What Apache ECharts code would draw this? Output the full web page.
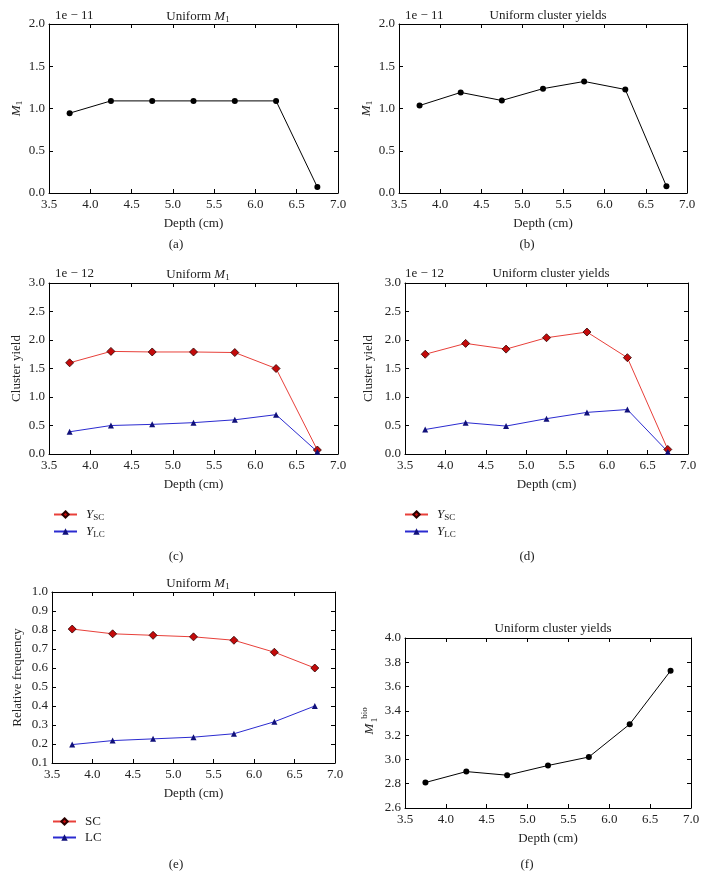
<!DOCTYPE html>
<html>
<head>
<meta charset="utf-8">
<script src="https://cdn.jsdelivr.net/npm/echarts@6/dist/echarts.min.js"></script>
<style>
html,body{margin:0;padding:0;background:#fff;}
#c{width:706px;height:878px;}
</style>
</head>
<body>
<div id="c"></div>
<script>
// ---- data ----
var depth = [3.75, 4.25, 4.75, 5.25, 5.75, 6.25, 6.75];
var xTicks = ['3.5','4.0','4.5','5.0','5.5','6.0','6.5','7.0'];
var aM1 = [0.945, 1.09, 1.09, 1.09, 1.09, 1.09, 0.07];           // x 1e-11
var bM1 = [1.035, 1.19, 1.095, 1.235, 1.32, 1.225, 0.08];        // x 1e-11
var cSC = [1.60, 1.80, 1.79, 1.79, 1.78, 1.50, 0.07];            // x 1e-12
var cLC = [0.39, 0.50, 0.52, 0.55, 0.60, 0.69, 0.04];            // x 1e-12
var dSC = [1.75, 1.94, 1.84, 2.04, 2.14, 1.69, 0.08];            // x 1e-12
var dLC = [0.43, 0.55, 0.49, 0.62, 0.73, 0.78, 0.04];            // x 1e-12
var eSC = [0.805, 0.78, 0.772, 0.764, 0.746, 0.683, 0.60];
var eLC = [0.197, 0.218, 0.227, 0.236, 0.254, 0.317, 0.40];
var fBio = [2.81, 2.90, 2.87, 2.95, 3.02, 3.29, 3.73];

var FONT = 'Liberation Serif';
var FS = 13;
var TXT = '#222';

function pairs(ys){ return depth.map(function(x,i){ return [x, ys[i]]; }); }

var grids = [
  {left:49,  top:24,  width:289, height:169},
  {left:399, top:24,  width:288, height:169},
  {left:49,  top:283, width:289, height:171},
  {left:405, top:283, width:283, height:171},
  {left:52,  top:592, width:283, height:171},
  {left:405, top:638, width:286, height:170}
];
var yCfg = [
  {min:0, max:2.0, interval:0.5, name:'{i|M}{s|1}', gap:25},
  {min:0, max:2.0, interval:0.5, name:'{i|M}{s|1}', gap:25},
  {min:0, max:3.0, interval:0.5, name:'Cluster yield', gap:26},
  {min:0, max:3.0, interval:0.5, name:'Cluster yield', gap:30},
  {min:0.1, max:1.0, interval:0.1, name:'Relative frequency', gap:28},
  {min:2.6, max:4.0, interval:0.2, name:'', gap:30}
];

var rich = {
  i:{fontFamily:FONT, fontSize:FS, fontStyle:'italic', color:TXT},
  s:{fontFamily:FONT, fontSize:9, color:TXT, padding:[6,0,0,0]},
  n:{fontFamily:FONT, fontSize:FS, color:TXT}
};

var xAxis = [], yAxis = [];
grids.forEach(function(g, i){
  var common = {
    type:'value', gridIndex:i, min:3.5, max:7.0, interval:0.5,
    axisLine:{show:true, onZero:false, lineStyle:{color:'#000', width:1}},
    axisTick:{show:true, inside:true, length:4, lineStyle:{color:'#000', width:1}},
    splitLine:{show:false}
  };
  xAxis.push(Object.assign({}, common, {
    position:'bottom',
    axisLabel:{color:TXT, fontFamily:FONT, fontSize:FS, margin:5,
      formatter:function(v){ var k = Math.round((v-3.5)/0.5); return xTicks[k]; }},
    name:'Depth (cm)', nameLocation:'middle', nameGap:24,
    nameTextStyle:{color:TXT, fontFamily:FONT, fontSize:FS}
  }));
  xAxis.push(Object.assign({}, common, {position:'top', axisLabel:{show:false}}));
  var yc = yCfg[i];
  var ycommon = {
    type:'value', gridIndex:i, min:yc.min, max:yc.max, interval:yc.interval,
    axisLine:{show:true, onZero:false, lineStyle:{color:'#000', width:1}},
    axisTick:{show:true, inside:true, length:4, lineStyle:{color:'#000', width:1}},
    splitLine:{show:false}
  };
  yAxis.push(Object.assign({}, ycommon, {
    position:'left',
    axisLabel:{color:TXT, fontFamily:FONT, fontSize:FS, margin:4,
      formatter:function(v){ return v.toFixed(1); }},
    name:yc.name, nameLocation:'middle', nameGap:yc.gap,
    nameTextStyle:{color:TXT, fontFamily:FONT, fontSize:FS, rich:rich}
  }));
  yAxis.push(Object.assign({}, ycommon, {position:'right', axisLabel:{show:false}}));
});

var RED_LINE = '#e8403a', RED_MK = '#c40a0a';
var BLUE_LINE = '#2b2bd0', BLUE_MK = '#10107a';

function blackSeries(i, ys){
  return {type:'line', xAxisIndex:2*i, yAxisIndex:2*i, data:pairs(ys),
    symbol:'circle', symbolSize:6, lineStyle:{color:'#000', width:1},
    itemStyle:{color:'#000'}, silent:true, animation:false};
}
function redSeries(i, ys, name){
  return {type:'line', name:name, xAxisIndex:2*i, yAxisIndex:2*i, data:pairs(ys),
    symbol:'diamond', symbolSize:8, lineStyle:{color:RED_LINE, width:1},
    itemStyle:{color:RED_MK, borderColor:'#2a0000', borderWidth:0.8}, animation:false};
}
function blueSeries(i, ys, name){
  return {type:'line', name:name, xAxisIndex:2*i, yAxisIndex:2*i, data:pairs(ys),
    symbol:'triangle', symbolSize:6, lineStyle:{color:BLUE_LINE, width:1},
    itemStyle:{color:BLUE_MK}, animation:false};
}

var series = [
  blackSeries(0, aM1),
  blackSeries(1, bM1),
  redSeries(2, cSC, 'YSC'), blueSeries(2, cLC, 'YLC'),
  redSeries(3, dSC, 'YSC'), blueSeries(3, dLC, 'YLC'),
  redSeries(4, eSC, 'SC'), blueSeries(4, eLC, 'LC'),
  blackSeries(5, fBio)
];

function legendFmt(n){
  if (n === 'YSC') return '{i|Y}{s|SC}';
  if (n === 'YLC') return '{i|Y}{s|LC}';
  return '{n|' + n + '}';
}
function mkLegend(left, top, data){
  return {left:left, top:top, orient:'vertical', padding:0, itemGap:3, itemWidth:23, itemHeight:8,
    data:data, formatter:legendFmt, selectedMode:false,
    textStyle:{color:TXT, fontFamily:FONT, fontSize:FS, padding:[0,0,0,4], rich:rich}};
}

function mkTitle(cx, top, text){
  return {text:text, left:cx, top:top, textAlign:'center',
    textStyle:{color:TXT, fontFamily:FONT, fontSize:FS, fontWeight:'normal', rich:rich}};
}

function gtext(x, y, text, align){
  return {type:'text', x:x, y:y, silent:true,
    style:{text:text, font:FS + 'px "' + FONT + '"', fill:TXT, align:align||'center', verticalAlign:'middle'}};
}

var graphic = [
  gtext(55, 16, '1e \u2212 11', 'left'),
  gtext(405, 16, '1e \u2212 11', 'left'),
  gtext(55, 274, '1e \u2212 12', 'left'),
  gtext(405, 274, '1e \u2212 12', 'left'),
  gtext(176, 245, '(a)'), gtext(527, 245, '(b)'),
  gtext(176, 557, '(c)'), gtext(527, 557, '(d)'),
  gtext(176, 865, '(e)'), gtext(527, 865, '(f)'),
  // y-axis name of (f): M with subscript 1 and superscript bio
  {type:'text', x:370, y:729, rotation:Math.PI/2, silent:true,
    style:{text:'M', font:'italic ' + FS + 'px "' + FONT + '"', fill:TXT, align:'center', verticalAlign:'middle'}},
  {type:'text', x:375, y:720, rotation:Math.PI/2, silent:true,
    style:{text:'1', font:'9px "' + FONT + '"', fill:TXT, align:'center', verticalAlign:'middle'}},
  {type:'text', x:365, y:713, rotation:Math.PI/2, silent:true,
    style:{text:'bio', font:'9px "' + FONT + '"', fill:TXT, align:'center', verticalAlign:'middle'}}
];

var option = {
  backgroundColor:'#fff',
  animation:false,
  title:[
    mkTitle(193, 4, 'Uniform {i|M}{s|1}'),
    mkTitle(543, 4, 'Uniform cluster yields'),
    mkTitle(193, 262, 'Uniform {i|M}{s|1}'),
    mkTitle(546, 262, 'Uniform cluster yields'),
    mkTitle(193, 571, 'Uniform {i|M}{s|1}'),
    mkTitle(548, 617, 'Uniform cluster yields')
  ],
  legend:[
    mkLegend(53, 508, ['YSC','YLC']),
    mkLegend(404, 508, ['YSC','YLC']),
    mkLegend(52, 815, ['SC','LC'])
  ],
  grid:grids,
  xAxis:xAxis,
  yAxis:yAxis,
  series:series,
  graphic:graphic
};

var chart = echarts.init(document.getElementById('c'), null, {renderer:'canvas'});
chart.setOption(option);
</script>
</body>
</html>
